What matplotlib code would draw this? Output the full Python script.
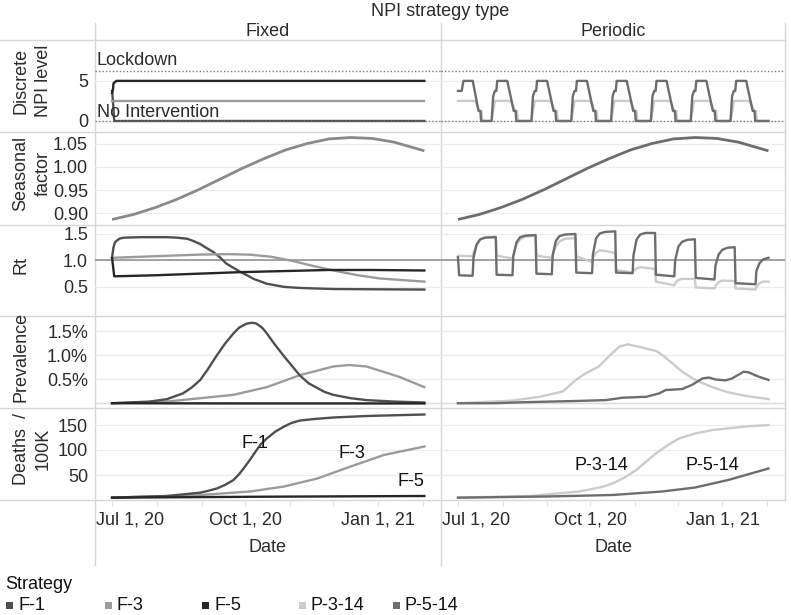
import matplotlib
matplotlib.use("Agg")
import matplotlib.pyplot as plt
from matplotlib.lines import Line2D
from matplotlib.patches import Rectangle

plt.rcParams['font.family'] = ['Liberation Sans', 'DejaVu Sans']
plt.rcParams['font.size'] = 13

W, H, DPI = 791, 615, 100
TXT = '#2b2b2b'

# ------ Strategies / colours ------
strategies = ['F-1', 'F-3', 'F-5', 'P-3-14', 'P-5-14']
colors = {'F-1': '#4f4f4f', 'F-3': '#9b9b9b', 'F-5': '#262626',
          'P-3-14': '#cbcbcb', 'P-5-14': '#6d6d6d'}
# -----------------------------------

# ------ Data (days since Jul 1, 2020) ------
season_days = [0, 15, 30, 45, 60, 75, 90, 105, 120, 135, 150, 165, 180, 195, 216]
season_vals = [0.886, 0.897, 0.912, 0.930, 0.951, 0.974, 0.997, 1.018, 1.037,
               1.051, 1.061, 1.064, 1.062, 1.054, 1.035]

npi_f1_days = [0, 0.6, 1.5, 216]
npi_f1_vals = [3.75, 2.5, 0, 0]
npi_f3_days = [0, 216]
npi_f3_vals = [2.5, 2.5]
npi_f5_days = [0, 0.6, 1.0, 3.0, 216]
npi_f5_vals = [3.5, 3.9, 4.7, 5, 5]

npi_p5_days = [0, 2.6, 3.8, 10.3, 14.3, 15.6, 16.1,
               23.4, 24.5, 25.7, 26.7, 27.3, 34.3, 38.8, 40.1, 40.6,
               51.1, 52.2, 53.4, 54.4, 55.0, 62.0, 66.5, 67.8, 68.3,
               78.8, 79.9, 81.1, 82.1, 82.7, 89.7, 94.2, 95.5, 96.0,
               106.5, 107.6, 108.8, 109.8, 110.4, 117.4, 121.9, 123.2, 123.7,
               134.2, 135.3, 136.5, 137.5, 138.1, 145.1, 149.6, 150.9, 151.4,
               161.9, 163.0, 164.2, 165.2, 165.8, 172.8, 177.3, 178.6, 179.1,
               189.6, 190.7, 191.9, 192.9, 193.5, 200.5, 205.0, 206.3, 206.8,
               216]
npi_p5_vals = [3.75, 3.75, 5, 5, 1.25, 1.25, 0,
               0, 3.1, 3.75, 3.75, 5, 5, 1.25, 1.25, 0,
               0, 3.1, 3.75, 3.75, 5, 5, 1.25, 1.25, 0,
               0, 3.1, 3.75, 3.75, 5, 5, 1.25, 1.25, 0,
               0, 3.1, 3.75, 3.75, 5, 5, 1.25, 1.25, 0,
               0, 3.1, 3.75, 3.75, 5, 5, 1.25, 1.25, 0,
               0, 3.1, 3.75, 3.75, 5, 5, 1.25, 1.25, 0,
               0, 3.1, 3.75, 3.75, 5, 5, 1.25, 1.25, 0,
               0]

npi_p3_days = [0, 12.0, 15.0, 16.3, 17.0,
               23.4, 25.7, 36.8, 39.8, 41.1, 41.8,
               51.1, 53.4, 64.5, 67.5, 68.8, 69.5,
               78.8, 81.1, 92.2, 95.2, 96.5, 97.2,
               106.5, 108.8, 119.9, 122.9, 124.2, 124.9,
               134.2, 136.5, 147.6, 150.6, 151.9, 152.6,
               161.9, 164.2, 175.3, 178.3, 179.6, 180.3,
               189.6, 191.9, 203.0, 206.0, 207.3, 208.0,
               216]
npi_p3_vals = [2.5, 2.5, 1.25, 1.25, 0,
               0, 2.5, 2.5, 1.25, 1.25, 0,
               0, 2.5, 2.5, 1.25, 1.25, 0,
               0, 2.5, 2.5, 1.25, 1.25, 0,
               0, 2.5, 2.5, 1.25, 1.25, 0,
               0, 2.5, 2.5, 1.25, 1.25, 0,
               0, 2.5, 2.5, 1.25, 1.25, 0,
               0, 2.5, 2.5, 1.25, 1.25, 0,
               0]

rt_f1_days = [0, 1, 2, 3.5, 5, 8, 20, 38, 45, 52, 56, 61, 65, 70, 75, 79, 84, 89, 94,
              98, 103, 107, 113, 119, 130, 153, 180, 216]
rt_f1_vals = [1.06, 1.25, 1.34, 1.38, 1.41, 1.43, 1.44, 1.44, 1.43, 1.41, 1.37, 1.31,
              1.24, 1.16, 1.05, 0.94, 0.86, 0.78, 0.71, 0.65, 0.60, 0.56, 0.53, 0.50,
              0.48, 0.46, 0.455, 0.45]
rt_f3_days = [0, 20, 40, 60, 80, 95, 110, 125, 140, 155, 170, 185, 200, 216]
rt_f3_vals = [1.05, 1.07, 1.09, 1.11, 1.12, 1.11, 1.07, 0.99, 0.89, 0.80, 0.72, 0.66, 0.63, 0.60]
rt_f5_days = [0, 1.5, 30, 60, 90, 120, 150, 180, 216]
rt_f5_vals = [1.05, 0.70, 0.72, 0.75, 0.78, 0.80, 0.82, 0.82, 0.81]

rt_p5_days = [0, 0.8, 10.2, 10.8, 13, 15.5, 19, 26.3,
              26.9, 37.9, 38.5, 40.7, 43.2, 47, 54.0,
              54.6, 65.3, 65.9, 68.1, 70.6, 74.5, 81.7,
              82.3, 93.3, 93.9, 96.1, 98.6, 102.5, 109.4,
              110.0, 121.5, 122.1, 124.3, 126.8, 130.5, 137.1,
              137.7, 150.5, 151.1, 153.3, 155.8, 159.5, 164.8,
              165.4, 178.5, 179.1, 181.3, 183.8, 187.5, 192.5,
              193.1, 207.0, 207.6, 209.8, 212.3, 216]
rt_p5_vals = [1.06, 0.72, 0.71, 1.05, 1.30, 1.40, 1.43, 1.44,
              0.73, 0.72, 1.08, 1.34, 1.44, 1.47, 1.48,
              0.75, 0.74, 1.10, 1.37, 1.46, 1.49, 1.50,
              0.77, 0.76, 1.12, 1.42, 1.51, 1.54, 1.55,
              0.77, 0.76, 1.10, 1.40, 1.49, 1.52, 1.52,
              0.73, 0.70, 1.00, 1.26, 1.35, 1.39, 1.40,
              0.67, 0.64, 0.90, 1.11, 1.20, 1.24, 1.25,
              0.57, 0.55, 0.80, 0.95, 1.02, 1.05]

rt_p3_days = [0, 10.2, 10.8, 13, 15.5, 19, 26.3,
              26.9, 37.9, 38.5, 40.7, 43.2, 47, 54.0,
              54.6, 65.3, 65.9, 68.1, 70.6, 74.5, 81.7,
              82.3, 93.3, 93.9, 96.1, 98.6, 102.5, 109.4,
              110.0, 121.5, 122.1, 124.3, 126.8, 130.5, 137.1,
              137.7, 150.5, 151.1, 153.3, 155.8, 164.8,
              165.4, 178.5, 179.1, 181.3, 183.8, 192.5,
              193.1, 207.0, 207.6, 209.8, 212.3, 216]
rt_p3_vals = [1.09, 1.08, 1.14, 1.31, 1.40, 1.44, 1.45,
              1.09, 1.04, 1.10, 1.30, 1.40, 1.45, 1.47,
              1.09, 1.05, 1.10, 1.27, 1.36, 1.41, 1.42,
              1.08, 0.97, 1.05, 1.15, 1.19, 1.18, 1.14,
              0.82, 0.77, 0.80, 0.85, 0.87, 0.86, 0.84,
              0.60, 0.53, 0.57, 0.63, 0.65, 0.65,
              0.49, 0.47, 0.52, 0.59, 0.62, 0.61,
              0.47, 0.45, 0.50, 0.57, 0.60, 0.60]

prev_f1_days = [0, 26, 38, 49, 55, 61, 66, 72, 78, 84, 88, 93, 97, 100, 104, 107, 112,
                119, 125, 130, 136, 142, 147, 153, 165, 176, 195, 216]
prev_f1_vals = [0.005, 0.04, 0.09, 0.21, 0.33, 0.49, 0.70, 0.98, 1.24, 1.46, 1.58, 1.66,
                1.68, 1.66, 1.57, 1.46, 1.25, 0.98, 0.76, 0.58, 0.42, 0.32, 0.24, 0.18,
                0.11, 0.07, 0.04, 0.02]
prev_f3_days = [0, 38, 61, 84, 107, 130, 153, 164, 176, 199, 216]
prev_f3_vals = [0.005, 0.04, 0.11, 0.18, 0.34, 0.59, 0.77, 0.80, 0.77, 0.55, 0.34]
prev_f5_days = [0, 40, 100, 216]
prev_f5_vals = [0.006, 0.003, 0.001, 0.001]
prev_p3_days = [0, 38, 57, 73, 82, 89, 98, 105, 112, 118, 126, 138, 142, 149, 156, 165,
                177, 188, 200, 216]
prev_p3_vals = [0.005, 0.06, 0.14, 0.25, 0.49, 0.63, 0.77, 0.98, 1.18, 1.23, 1.18, 1.09,
                1.01, 0.84, 0.66, 0.49, 0.34, 0.23, 0.16, 0.09]
prev_p5_days = [0, 24.5, 50, 80, 103, 114.5, 131, 140, 144.5, 156, 163, 170, 174.5, 179,
                186, 190.6, 198.7, 202, 209, 216]
prev_p5_vals = [0.005, 0.005, 0.03, 0.05, 0.07, 0.12, 0.14, 0.21, 0.28, 0.30, 0.39, 0.52,
                0.54, 0.50, 0.48, 0.52, 0.66, 0.65, 0.56, 0.49]

deaths_f1_days = [0, 38, 61, 66, 72.5, 78, 84, 88, 92, 96, 100, 103, 107, 113, 119, 124,
                  130, 140, 153, 176, 216]
deaths_f1_vals = [4.7, 8, 14.7, 18, 23, 30, 40, 52, 67, 83, 100, 112, 123, 137, 147, 154,
                  159, 162, 165, 168, 171]
deaths_f3_days = [0, 61, 95.5, 119, 142, 165, 188, 216]
deaths_f3_vals = [4.7, 10, 17, 27, 43, 67, 90, 107]
deaths_f5_days = [0, 100, 216]
deaths_f5_vals = [4.7, 6.5, 8]
deaths_p3_days = [0, 50, 84.5, 100, 107.5, 116, 124, 131, 137.6, 146, 153.7, 165, 177, 200, 216]
deaths_p3_vals = [4.7, 8, 17, 26, 33, 45, 60, 77, 93, 110, 123, 133, 140, 147, 150]
deaths_p5_days = [0, 61.5, 107.5, 142, 165, 188, 216]
deaths_p5_vals = [4.7, 7, 10, 17, 25, 40, 63]

# direct labels in the deaths row: (text, day, value)
death_labels_fixed = [('F-1', 99, 114), ('F-3', 166, 94), ('F-5', 216, 37)]
death_labels_periodic = [('P-3-14', 100, 70), ('P-5-14', 177, 70)]

lockdown_level = 6.25
no_intervention_level = 0

tick_days = [0, 92, 184]
tick_labels = ['Jul 1, 20', 'Oct 1, 20', 'Jan 1, 21']
month_days = [0, 31, 62, 92, 123, 153, 184, 215]
# -------------------------------------------

fixed = {
    'npi': [('F-1', npi_f1_days, npi_f1_vals), ('F-3', npi_f3_days, npi_f3_vals),
            ('F-5', npi_f5_days, npi_f5_vals)],
    'rt': [('F-1', rt_f1_days, rt_f1_vals), ('F-3', rt_f3_days, rt_f3_vals),
           ('F-5', rt_f5_days, rt_f5_vals)],
    'prev': [('F-3', prev_f3_days, prev_f3_vals), ('F-1', prev_f1_days, prev_f1_vals),
             ('F-5', prev_f5_days, prev_f5_vals)],
    'deaths': [('F-3', deaths_f3_days, deaths_f3_vals), ('F-1', deaths_f1_days, deaths_f1_vals),
               ('F-5', deaths_f5_days, deaths_f5_vals)],
}
periodic = {
    'npi': [('P-3-14', npi_p3_days, npi_p3_vals), ('P-5-14', npi_p5_days, npi_p5_vals)],
    'rt': [('P-3-14', rt_p3_days, rt_p3_vals), ('P-5-14', rt_p5_days, rt_p5_vals)],
    'prev': [('P-3-14', prev_p3_days, prev_p3_vals), ('P-5-14', prev_p5_days, prev_p5_vals)],
    'deaths': [('P-3-14', deaths_p3_days, deaths_p3_vals), ('P-5-14', deaths_p5_days, deaths_p5_vals)],
}

# ------ layout in pixels ------
row_edges = [40, 132, 225, 316, 408, 500]
col_edges = [(95, 441), (441, 785)]
XLIM = (-11.8, 227.5)

rows = [
    dict(key='npi', ylim=(-1.375, 10.1), ticks=[0, 5], labels=['0', '5']),
    dict(key='season', ylim=(0.874, 1.076), ticks=[0.90, 0.95, 1.00, 1.05],
         labels=['0.90', '0.95', '1.00', '1.05']),
    dict(key='rt', ylim=(-0.05, 1.67), ticks=[0.5, 1.0, 1.5], labels=['0.5', '1.0', '1.5']),
    dict(key='prev', ylim=(-0.094, 1.82), ticks=[0, 0.5, 1.0, 1.5],
         labels=['', '0.5%', '1.0%', '1.5%']),
    dict(key='deaths', ylim=(0, 184), ticks=[50, 100, 150], labels=['50', '100', '150']),
]
row_titles = [['Discrete', 'NPI level'], ['Seasonal', 'factor'], ['Rt'],
              ['Prevalence'], ['Deaths  /', '100K']]

fig = plt.figure(figsize=(W / DPI, H / DPI), dpi=DPI)


def fx(x):
    return x / W


def fy(y):
    return 1 - y / H


def fig_line(x0, y0, x1, y1, color='#d6d6d6', lw=1.0):
    fig.add_artist(Line2D([fx(x0), fx(x1)], [fy(y0), fy(y1)],
                          transform=fig.transFigure, color=color, lw=lw, zorder=0))


for r, row in enumerate(rows):
    y0, y1 = row_edges[r], row_edges[r + 1]
    for c, (x0, x1) in enumerate(col_edges):
        ax = fig.add_axes([fx(x0), fy(y1), (x1 - x0) / W, (y1 - y0) / H])
        ax.set_facecolor('none')
        for s in ax.spines.values():
            s.set_visible(False)
        ax.set_xlim(*XLIM)
        ax.set_ylim(*row['ylim'])
        ax.set_yticks(row['ticks'])
        ax.set_yticklabels(row['labels'] if c == 0 else [], color=TXT)
        ax.tick_params(axis='y', length=0, pad=5)
        for t in row['ticks']:
            ax.axhline(t, color='#ececec', lw=0.9, zorder=0)
        data = fixed if c == 0 else periodic

        if row['key'] == 'season':
            ax.plot(season_days, season_vals, color='#8a8a8a' if c == 0 else '#6d6d6d',
                    lw=2.0, solid_capstyle='butt')
        else:
            for name, d, v in data[row['key']]:
                ax.plot(d, v, color=colors[name], lw=1.7, solid_joinstyle='round')

        if row['key'] == 'npi':
            for lvl in (lockdown_level, no_intervention_level):
                ax.axhline(lvl, color='#7a7a7a', lw=1.0, ls=(0, (1, 1.5)), zorder=5)
            if c == 0:
                ax.text(XLIM[0] + 1.2, 7.6, 'Lockdown', color=TXT, va='center', ha='left')
                ax.text(XLIM[0] + 1.2, 1.1, 'No Intervention', color=TXT, va='center', ha='left')
        if row['key'] == 'rt':
            ax.axhline(1.0, color='#8c8c8c', lw=1.1, zorder=1)
        if row['key'] == 'prev':
            ax.axhline(0, color='#dcdcdc', lw=1.0, zorder=0)

        if row['key'] == 'deaths':
            labs = death_labels_fixed if c == 0 else death_labels_periodic
            for txt, d, v in labs:
                ha = 'right' if txt == 'F-5' else 'center'
                ax.text(d, v, txt, color='#111111', ha=ha, va='center')
            ax.set_xticks(month_days)
            ax.set_xticklabels([])
            ax.tick_params(axis='x', length=4, color='#e4e4e4', width=0.8)
            for i, (td, tl) in enumerate(zip(tick_days, tick_labels)):
                if i == 0:
                    ax.text(XLIM[0] + 0.8, -20 / 92, tl, transform=ax.get_xaxis_transform(),
                            ha='left', va='center', color=TXT)
                else:
                    ax.text(td, -20 / 92, tl, transform=ax.get_xaxis_transform(),
                            ha='center', va='center', color=TXT)
        else:
            ax.set_xticks([])

# ------ separators ------
for y in row_edges:
    fig_line(0, y, 785, y)
fig_line(95, 23, 95, 565)
fig_line(441, 23, 441, 565)
fig_line(785, 23, 785, 500)

# ------ headers ------
fig.text(fx(440), fy(11), 'NPI strategy type', ha='center', va='center', color=TXT)
fig.text(fx(268), fy(31), 'Fixed', ha='center', va='center', color=TXT)
fig.text(fx(613), fy(31), 'Periodic', ha='center', va='center', color=TXT)
fig.text(fx(268), fy(548), 'Date', ha='center', va='center', color=TXT)
fig.text(fx(613), fy(548), 'Date', ha='center', va='center', color=TXT)

for r, lines in enumerate(row_titles):
    yc = (row_edges[r] + row_edges[r + 1]) / 2 - 5
    for i, line in enumerate(lines):
        fig.text(fx(21 + 22 * i), fy(yc), line, rotation=90, ha='center', va='center', color=TXT)

# ------ legend ------
fig.text(fx(5), fy(589), 'Strategy', ha='left', va='baseline', color='#111111')
legend_x = [6, 105, 202, 299, 393]
for name, lx in zip(strategies, legend_x):
    fig.add_artist(Rectangle((fx(lx), fy(609)), 7 / W, 7 / H, transform=fig.transFigure,
                             facecolor=colors[name], edgecolor='none'))
    fig.text(fx(lx + 12), fy(610), name, ha='left', va='baseline', color='#111111')

fig.savefig('out.png', dpi=DPI)
